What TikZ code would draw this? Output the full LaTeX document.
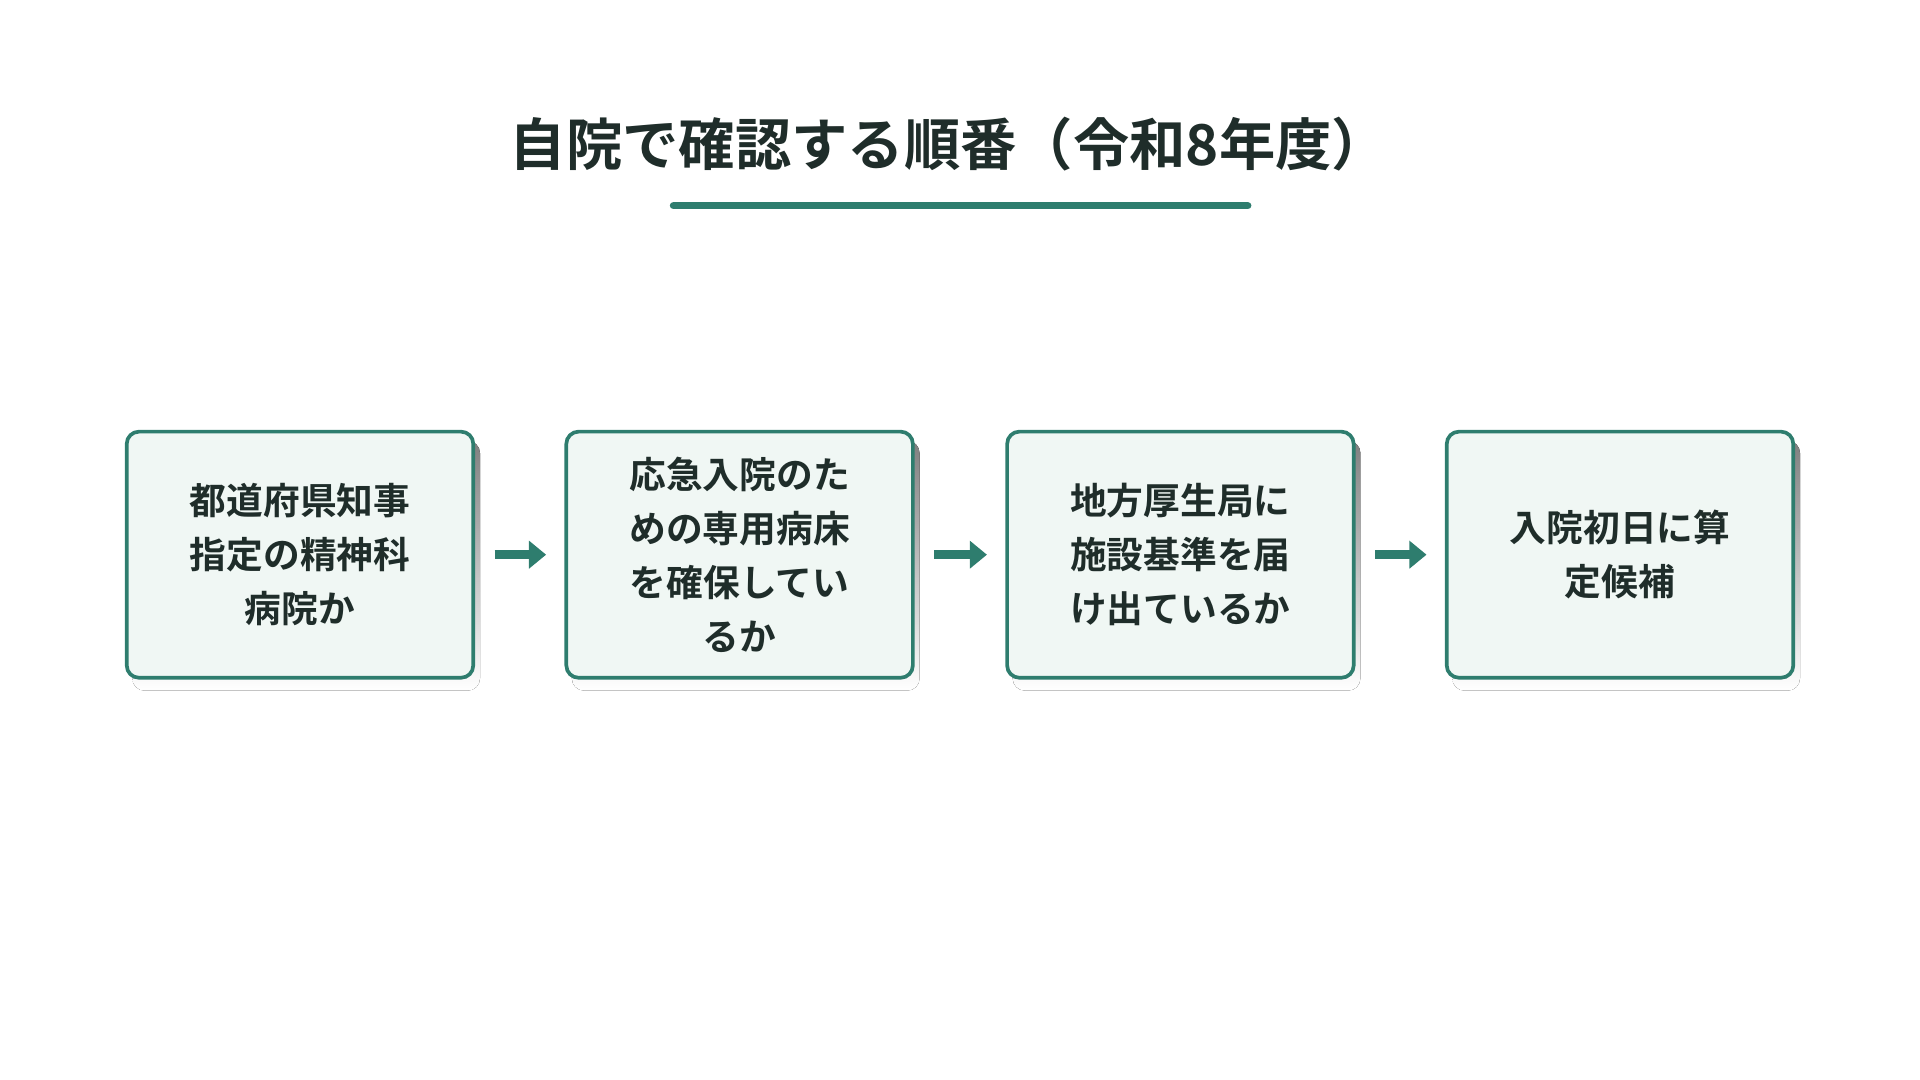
\documentclass[tikz,border=0pt]{standalone}
\usepackage{fontspec}
\newfontfamily\cjk{Noto Sans CJK JP}[BoldFont={Noto Sans CJK JP Bold}]
\usetikzlibrary{positioning,arrows.meta}
\definecolor{teal}{HTML}{2E7D6E}
\definecolor{pale}{HTML}{F0F7F4}
\definecolor{ink}{HTML}{1F2D2A}
\definecolor{shade}{HTML}{E3E8E6}
\tikzset{
  stage/.style={draw=teal, line width=3pt, fill=pale, rounded corners=10pt,
    minimum width=283pt, minimum height=201pt, inner sep=0pt,
    align=center, text=ink, font=\cjk\bfseries\fontsize{30}{44}\selectfont},
  flow/.style={draw=teal, line width=7pt, -{Triangle[length=14pt,width=22pt]},
    shorten <=16pt, shorten >=15pt}
}
\begin{document}
\begin{tikzpicture}[x=1pt,y=-1pt]
\useasboundingbox (0,0) rectangle (1568,882);
\node[font=\cjk\bfseries\fontsize{46}{50}\selectfont, text=ink] (title) at (775,118) {自院で確認する順番（令和8年度）};
\draw[teal, line width=6pt, line cap=round] (550,168) -- (1019,168);
% shadows
\foreach \x in {245,604,964,1323}
  \fill[shade, rounded corners=10pt] (\x-137,360) rectangle (\x+147,564);
\node[stage] (s1) at (245,453) {都道府県知事\\指定の精神科\\病院か};
\node[stage] (s2) at (604,453) {応急入院のた\\めの専用病床\\を確保してい\\るか};
\node[stage] (s3) at (964,453) {地方厚生局に\\施設基準を届\\け出ているか};
\node[stage] (s4) at (1323,453) {入院初日に算\\定候補};
\draw[flow] (s1) -- (s2);
\draw[flow] (s2) -- (s3);
\draw[flow] (s3) -- (s4);
\end{tikzpicture}
\end{document}
